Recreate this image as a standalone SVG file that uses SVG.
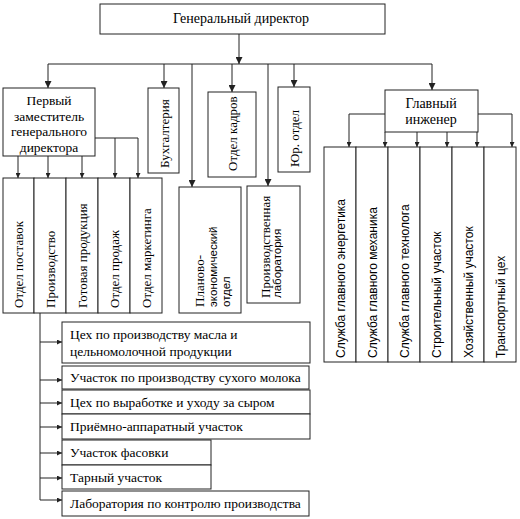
<svg xmlns="http://www.w3.org/2000/svg" width="520" height="519" viewBox="0 0 520 519">
<defs>
<marker id="a" viewBox="0 0 10 10" refX="10" refY="5" markerWidth="7" markerHeight="7" markerUnits="userSpaceOnUse" orient="auto"><path d="M0,0 L10,5 L0,10 z" fill="#222"/></marker>
<marker id="s" viewBox="0 0 10 10" refX="10" refY="5" markerWidth="5" markerHeight="5" markerUnits="userSpaceOnUse" orient="auto"><path d="M0,0 L10,5 L0,10 z" fill="#222"/></marker>
</defs>
<g id="connectors" fill="none" stroke="#222" stroke-width="1">
<line x1="239" y1="34" x2="239" y2="64" marker-end="url(#a)"/>
<line x1="48" y1="64" x2="432" y2="64"/>
<line x1="48" y1="64" x2="48" y2="88" marker-end="url(#a)"/>
<line x1="164" y1="64" x2="164" y2="88" marker-end="url(#a)"/>
<line x1="192" y1="64" x2="192" y2="187" marker-end="url(#a)"/>
<line x1="232" y1="64" x2="232" y2="92" marker-end="url(#a)"/>
<line x1="268" y1="64" x2="268" y2="186" marker-end="url(#a)"/>
<line x1="294" y1="64" x2="294" y2="87" marker-end="url(#a)"/>
<line x1="432" y1="64" x2="432" y2="90" marker-end="url(#a)"/>
<line x1="18" y1="156" x2="18" y2="178" marker-end="url(#s)"/>
<line x1="48" y1="156" x2="48" y2="178" marker-end="url(#s)"/>
<line x1="82" y1="156" x2="82" y2="178" marker-end="url(#s)"/>
<polyline points="95,138 138,138 138,178" marker-end="url(#s)"/>
<line x1="115" y1="138" x2="115" y2="178" marker-end="url(#s)"/>
<polyline points="385,114 349,114 349,147" marker-end="url(#s)"/>
<polyline points="478,114 512,114 512,147" marker-end="url(#s)"/>
<line x1="385" y1="132" x2="385" y2="147" marker-end="url(#s)"/>
<line x1="417" y1="132" x2="417" y2="147" marker-end="url(#s)"/>
<line x1="447" y1="132" x2="447" y2="147" marker-end="url(#s)"/>
<line x1="477" y1="132" x2="477" y2="147" marker-end="url(#s)"/>
<line x1="40" y1="313" x2="40" y2="500"/>
<line x1="40" y1="342" x2="62" y2="342" marker-end="url(#s)"/>
<line x1="40" y1="380" x2="62" y2="380" marker-end="url(#s)"/>
<line x1="40" y1="403" x2="62" y2="403" marker-end="url(#s)"/>
<line x1="40" y1="427" x2="62" y2="427" marker-end="url(#s)"/>
<line x1="40" y1="453" x2="62" y2="453" marker-end="url(#s)"/>
<line x1="40" y1="478" x2="62" y2="478" marker-end="url(#s)"/>
<line x1="40" y1="500" x2="62" y2="500" marker-end="url(#s)"/>
</g>
<g id="gen"><rect x="100" y="4" width="285" height="30" fill="#fff" stroke="#222"/><text font-family="Times New Roman" font-size="14" x="241" y="23" text-anchor="middle">Генеральный директор</text></g>
<g id="first"><rect x="3" y="88" width="92" height="68" fill="#fff" stroke="#222"/>
<text font-family="serif" font-size="13.5" x="49" y="105" text-anchor="middle">Первый</text>
<text font-family="serif" font-size="13.5" x="49" y="121" text-anchor="middle">заместитель</text>
<text font-family="serif" font-size="13.5" x="49" y="136" text-anchor="middle">генерального</text>
<text font-family="serif" font-size="13.5" x="49" y="152" text-anchor="middle">директора</text></g>
<g id="buh"><rect x="148" y="88" width="31" height="85" fill="#fff" stroke="#222"/><text style="font-family:'Liberation Serif';font-size:13px" transform="translate(168.5,168) rotate(-90)">Бухгалтерия</text></g>
<g id="kadry"><rect x="208" y="92" width="48" height="85" fill="#fff" stroke="#222"/><text style="font-family:'Liberation Serif';font-size:13px" transform="translate(236.5,171) rotate(-90)">Отдел кадров</text></g>
<g id="yur"><rect x="278" y="87" width="32" height="85" fill="#fff" stroke="#222"/><text style="font-family:'Liberation Serif';font-size:13px" transform="translate(298.5,167) rotate(-90)">Юр. отдел</text></g>
<g id="plan"><rect x="179" y="187" width="62" height="126" fill="#fff" stroke="#222"/>
<text font-family="serif" font-size="13" transform="translate(203.5,307) rotate(-90)">Планово-</text>
<text font-family="Liberation Sans" font-size="11.5" transform="translate(217,307) rotate(-90)">экономический</text>
<text font-family="Liberation Sans" font-size="11.5" transform="translate(229.5,307) rotate(-90)">отдел</text></g>
<g id="lab"><rect x="247" y="186" width="53" height="117" fill="#fff" stroke="#222"/>
<text font-family="serif" font-size="13" transform="translate(269.5,298) rotate(-90)">Производственная</text>
<text font-family="Liberation Sans" font-size="11.5" transform="translate(281,298) rotate(-90)">лаборатория</text></g>
<g id="engineer"><rect x="385" y="90" width="93" height="42" fill="#fff" stroke="#222"/>
<text font-family="Times New Roman" font-size="14" x="431" y="108" text-anchor="middle">Главный</text>
<text font-family="Times New Roman" font-size="14" x="431" y="124" text-anchor="middle">инженер</text></g>
<g id="sub1"><rect x="3" y="178" width="31" height="135" fill="#fff" stroke="#222"/><text font-family="Liberation Serif" font-size="13px" transform="translate(22.5,308) rotate(-90)">Отдел поставок</text></g>
<g id="sub2"><rect x="34" y="178" width="32" height="135" fill="#fff" stroke="#222"/><text font-family="Liberation Serif" font-size="13px" transform="translate(54.5,308) rotate(-90)">Производство</text></g>
<g id="sub3"><rect x="66" y="178" width="32" height="135" fill="#fff" stroke="#222"/><text font-family="Liberation Serif" font-size="13px" transform="translate(86.5,308) rotate(-90)">Готовая продукция</text></g>
<g id="sub4"><rect x="98" y="178" width="32" height="135" fill="#fff" stroke="#222"/><text font-family="Liberation Serif" font-size="13px" transform="translate(118.5,308) rotate(-90)">Отдел продаж</text></g>
<g id="sub5"><rect x="130" y="178" width="32" height="135" fill="#fff" stroke="#222"/><text font-family="Liberation Serif" font-size="13px" transform="translate(150.5,308) rotate(-90)">Отдел маркетинга</text></g>
<g id="eng1"><rect x="324" y="147" width="32" height="215" fill="#fff" stroke="#222"/><text font-family="Liberation Sans" font-size="12" transform="translate(344.5,358) rotate(-90)">Служба главного энергетика</text></g>
<g id="eng2"><rect x="356" y="147" width="32" height="215" fill="#fff" stroke="#222"/><text font-family="Liberation Sans" font-size="12" transform="translate(376.5,358) rotate(-90)">Служба главного механика</text></g>
<g id="eng3"><rect x="388" y="147" width="32" height="215" fill="#fff" stroke="#222"/><text font-family="Liberation Sans" font-size="12" transform="translate(408.5,358) rotate(-90)">Служба главного технолога</text></g>
<g id="eng4"><rect x="420" y="147" width="32" height="215" fill="#fff" stroke="#222"/><text font-family="Liberation Sans" font-size="12" transform="translate(440.5,358) rotate(-90)">Строительный участок</text></g>
<g id="eng5"><rect x="452" y="147" width="32" height="215" fill="#fff" stroke="#222"/><text font-family="Liberation Sans" font-size="12" transform="translate(472.5,358) rotate(-90)">Хозяйственный участок</text></g>
<g id="eng6"><rect x="484" y="147" width="32" height="215" fill="#fff" stroke="#222"/><text font-family="Liberation Sans" font-size="12" transform="translate(504.5,358) rotate(-90)">Транспортный цех</text></g>
<g id="pr1"><rect x="62" y="322" width="248" height="41" fill="#fff" stroke="#222"/><text font-family="Liberation Serif" font-size="13.5" x="70" y="339">Цех по производству масла и</text><text font-family="Liberation Serif" font-size="13.5" x="70" y="356">цельномолочной продукции</text></g>
<g id="pr2"><rect x="62" y="366" width="247" height="23" fill="#fff" stroke="#222"/><text font-family="Liberation Serif" font-size="13.5" x="70" y="382">Участок по производству сухого молока</text></g>
<g id="pr3"><rect x="62" y="390" width="248" height="24" fill="#fff" stroke="#222"/><text font-family="Liberation Serif" font-size="13.5" x="70" y="407">Цех по выработке и уходу за сыром</text></g>
<g id="pr4"><rect x="62" y="414" width="248" height="25" fill="#fff" stroke="#222"/><text font-family="Liberation Serif" font-size="13.5" x="70" y="431">Приёмно-аппаратный участок</text></g>
<g id="pr5"><rect x="62" y="440" width="149" height="25" fill="#fff" stroke="#222"/><text font-family="Liberation Serif" font-size="13.5" x="70" y="457">Участок фасовки</text></g>
<g id="pr6"><rect x="62" y="465" width="149" height="24" fill="#fff" stroke="#222"/><text font-family="Liberation Serif" font-size="13.5" x="70" y="482">Тарный участок</text></g>
<g id="pr7"><rect x="62" y="491" width="247" height="25" fill="#fff" stroke="#222"/><text font-family="Liberation Serif" font-size="13.5" x="70" y="508">Лаборатория по контролю производства</text></g>
</svg>
